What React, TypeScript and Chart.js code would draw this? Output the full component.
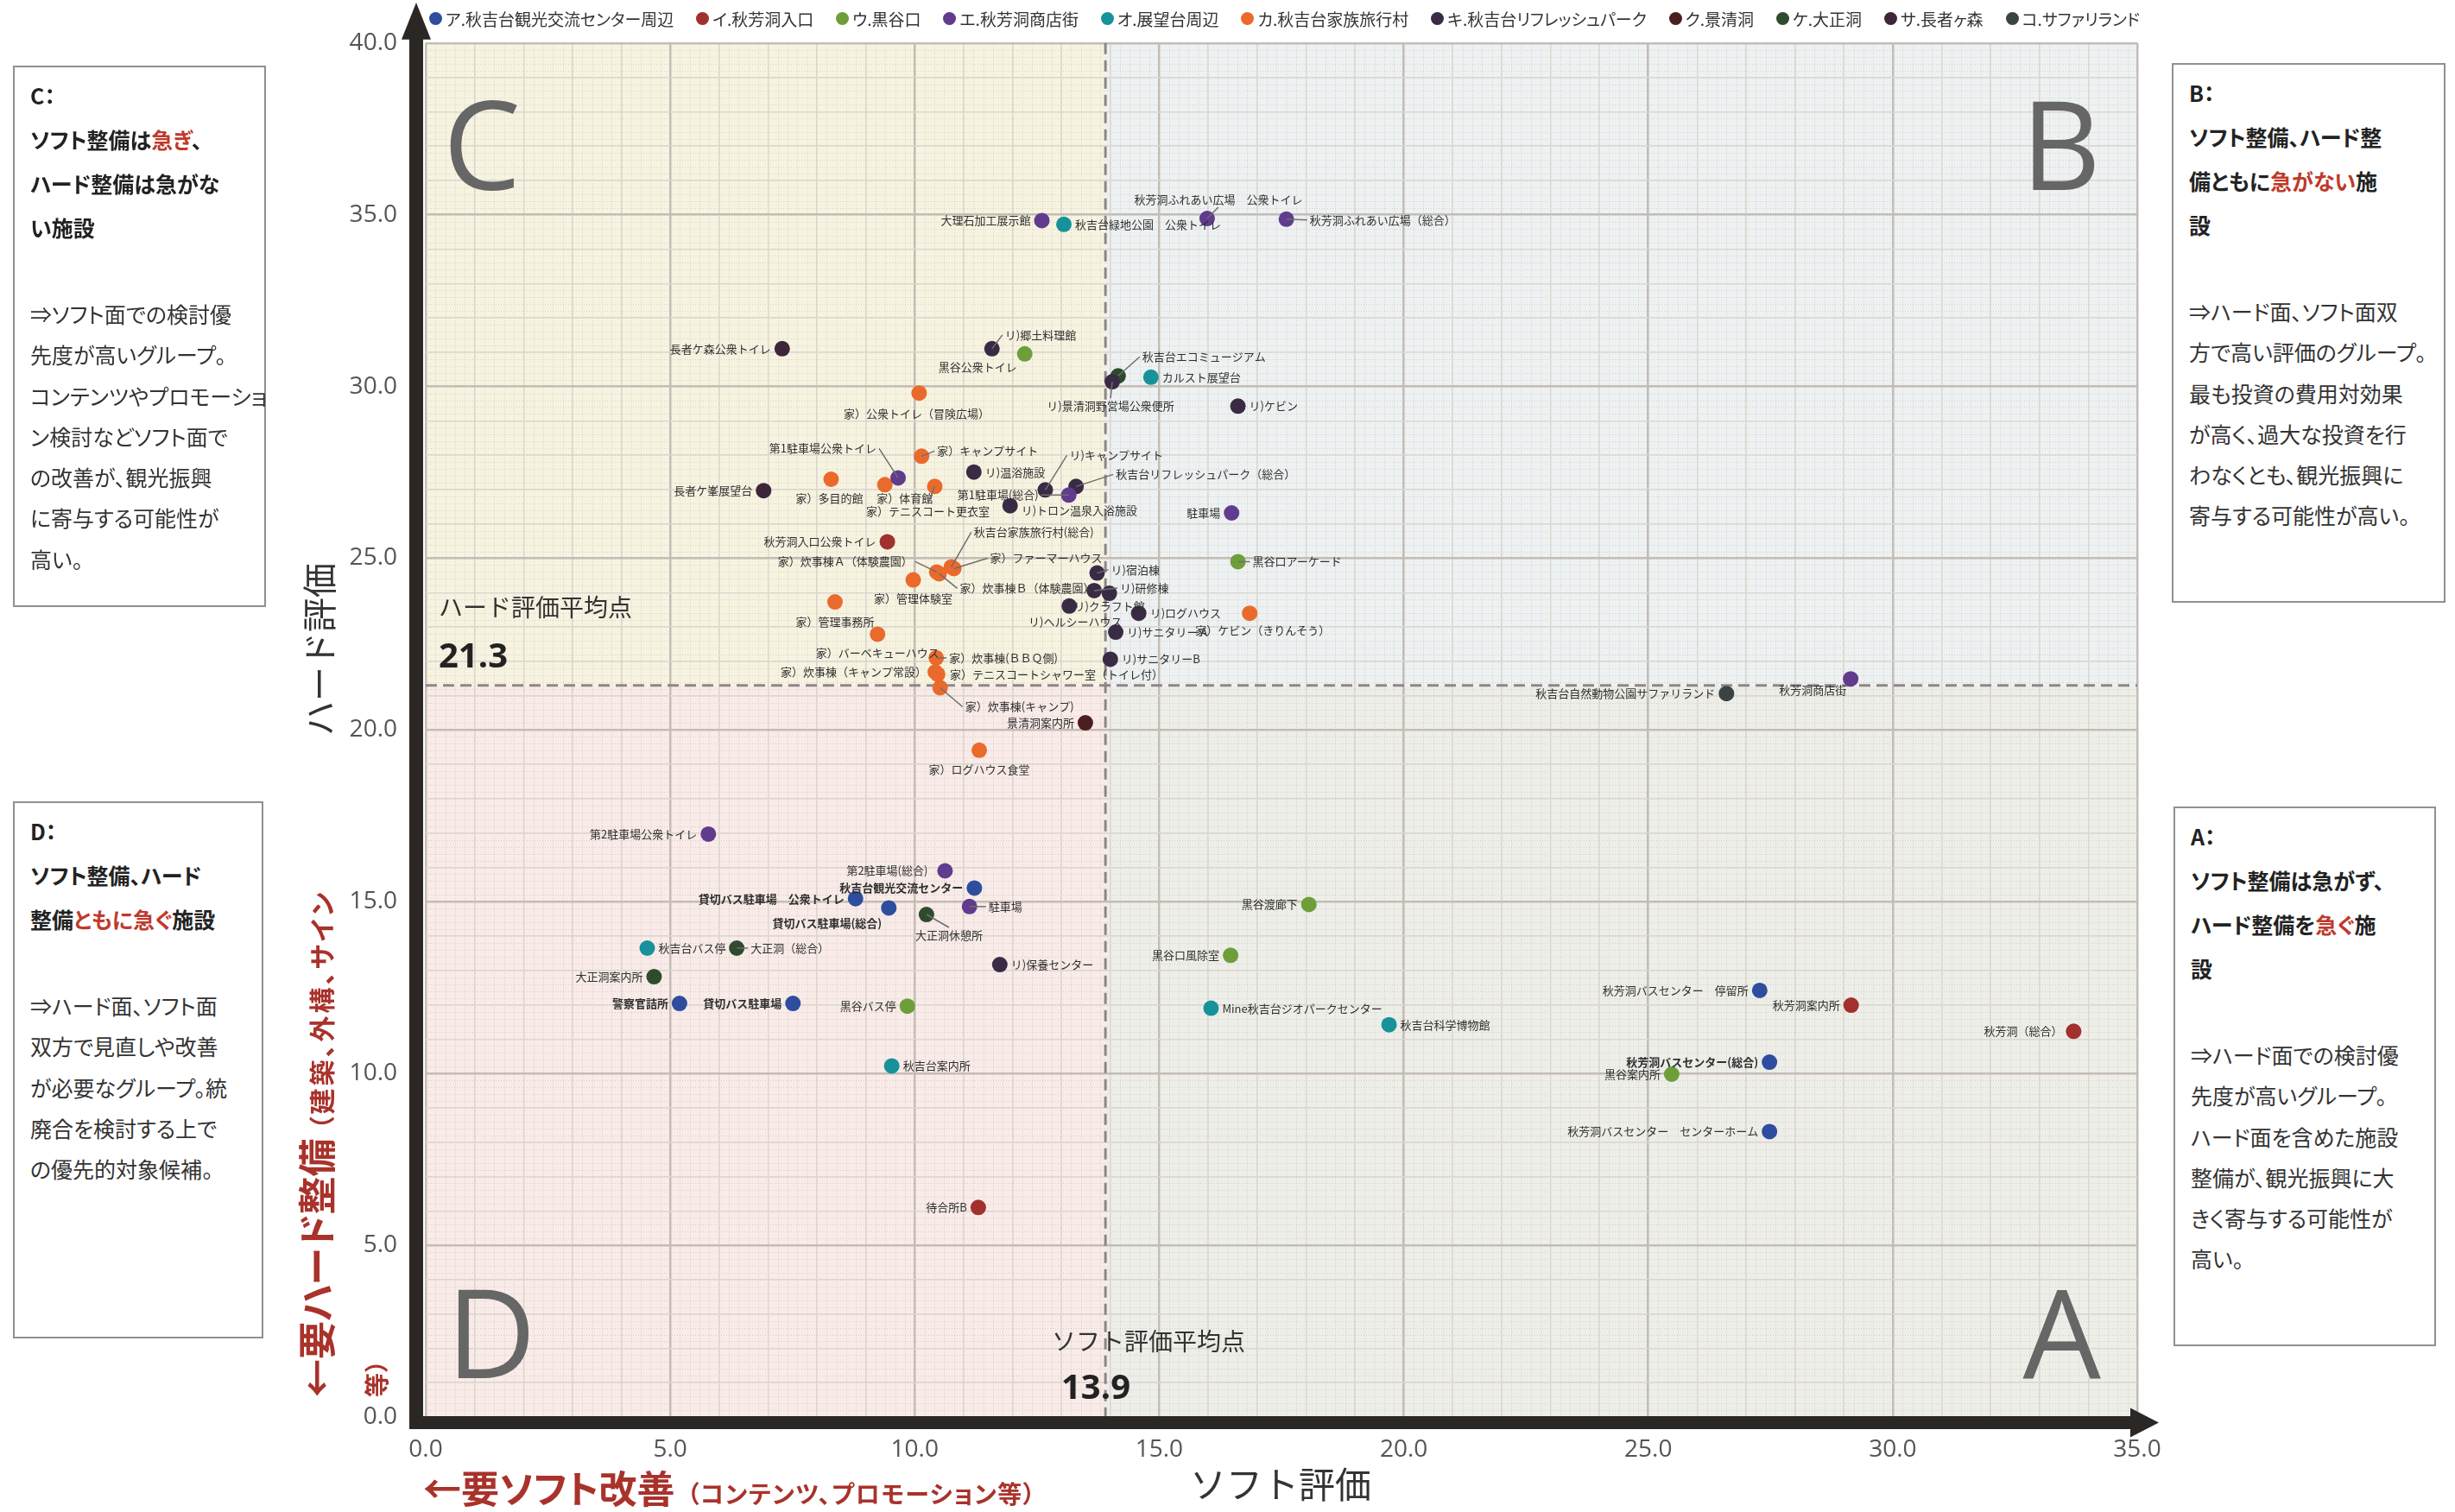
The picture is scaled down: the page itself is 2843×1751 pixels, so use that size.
import React, { useEffect, useRef } from 'react';
import { Chart, registerables } from 'chart.js';

Chart.register(...registerables);

const W = 2843;
const H = 1751;

const SOFT_AVG = 13.9;
const HARD_AVG = 21.3;
const X_MIN = 0;
const X_MAX = 35;
const Y_MIN = 0;
const Y_MAX = 40;

const SERIES_NAMES = [
  'ア.秋吉台観光交流センター周辺', 'イ.秋芳洞入口', 'ウ.黒谷口', 'エ.秋芳洞商店街', 'オ.展望台周辺',
  'カ.秋吉台家族旅行村', 'キ.秋吉台リフレッシュパーク', 'ク.景清洞', 'ケ.大正洞', 'サ.長者ヶ森', 'コ.サファリランド',
];
const SERIES_COLORS = [
  '#2E4D9E', '#A2302C', '#6E9E3A', '#603B8E', '#17929B',
  '#EA6A2C', '#3A2B45', '#4B1F1F', '#2F4B2D', '#3D2639', '#3A4444',
];

// ア.秋吉台観光交流センター周辺
const A_NAMES = ['秋吉台観光交流センター', '貸切バス駐車場　公衆トイレ', '貸切バス駐車場(総合)', '警察官詰所', '貸切バス駐車場', '秋芳洞バスセンター　停留所', '秋芳洞バスセンター(総合)', '秋芳洞バスセンター　センターホーム'];
const A_SOFT = [11.22, 8.79, 9.47, 5.19, 7.51, 27.28, 27.48, 27.48];
const A_HARD = [15.40, 15.09, 14.82, 12.04, 12.04, 12.42, 10.33, 8.31];
// イ.秋芳洞入口
const I_NAMES = ['秋芳洞入口公衆トイレ', '待合所B', '秋芳洞案内所', '秋芳洞（総合）'];
const I_SOFT = [9.44, 11.30, 29.15, 33.70];
const I_HARD = [25.48, 6.10, 11.99, 11.23];
// ウ.黒谷口
const U_NAMES = ['黒谷公衆トイレ', '黒谷口アーケード', '黒谷渡廊下', '黒谷口風除室', '黒谷バス停', '黒谷案内所'];
const U_SOFT = [12.25, 16.61, 18.06, 16.46, 9.85, 25.48];
const U_HARD = [30.95, 24.90, 14.92, 13.44, 11.96, 9.98];
// エ.秋芳洞商店街
const E_NAMES = ['大理石加工展示館', '第1駐車場公衆トイレ', '第1駐車場(総合)', '秋芳洞ふれあい広場　公衆トイレ', '秋芳洞ふれあい広場（総合）', '駐車場', '秋芳洞商店街', '第2駐車場公衆トイレ', '第2駐車場(総合)', '駐車場'];
const E_SOFT = [12.60, 9.66, 13.15, 15.98, 17.60, 16.48, 29.14, 5.78, 10.62, 11.12];
const E_HARD = [34.83, 27.34, 26.84, 34.89, 34.87, 26.32, 21.49, 16.97, 15.90, 14.86];
// オ.展望台周辺
const O_NAMES = ['秋吉台緑地公園　公衆トイレ', 'カルスト展望台', '秋吉台バス停', '秋吉台案内所', 'Mine秋吉台ジオパークセンター', '秋吉台科学博物館'];
const O_SOFT = [13.05, 14.83, 4.53, 9.53, 16.06, 19.70];
const O_HARD = [34.72, 30.27, 13.65, 10.22, 11.90, 11.42];
// カ.秋吉台家族旅行村
const KA_NAMES = ['家）公衆トイレ（冒険広場）', '家）キャンプサイト', '家）多目的館', '家）体育館', '家）テニスコート更衣室', '家）炊事棟Ａ（体験農園）', '家）炊事棟Ｂ（体験農園）', '秋吉台家族旅行村(総合)', '家）ファーマーハウス', '家）管理体験室', '家）管理事務所', '家）バーベキューハウス', '家）炊事棟(ＢＢＱ側)', '家）炊事棟（キャンプ常設）', '家）テニスコートシャワー室（トイレ付）', '家）炊事棟(キャンプ)', '家）ログハウス食堂', '家）ケビン（きりんそう）'];
const KA_SOFT = [10.09, 10.14, 8.29, 9.39, 10.41, 10.45, 10.50, 10.75, 10.80, 9.97, 8.37, 9.24, 10.44, 10.42, 10.47, 10.52, 11.32, 16.85];
const KA_HARD = [29.81, 27.97, 27.30, 27.14, 27.09, 24.60, 24.55, 24.75, 24.70, 24.37, 23.73, 22.79, 22.10, 21.69, 21.62, 21.23, 19.41, 23.40];
// キ.秋吉台リフレッシュパーク
const KI_NAMES = ['リ)郷土料理館', 'リ)景清洞野営場公衆便所', 'リ)キャンプサイト', '秋吉台リフレッシュパーク（総合）', 'リ)温浴施設', 'リ)トロン温泉入浴施設', 'リ)ケビン', 'リ)宿泊棟', 'リ)研修棟', 'リ)クラフト館', 'リ)ヘルシーハウス', 'リ)ログハウス', 'リ)サニタリー A', 'リ)サニタリーB', 'リ)保養センター'];
const KI_SOFT = [11.58, 14.04, 12.67, 13.30, 11.21, 11.95, 16.61, 13.73, 13.67, 13.98, 13.16, 14.58, 14.11, 14.00, 11.74];
const KI_HARD = [31.10, 30.14, 26.99, 27.09, 27.51, 26.53, 29.43, 24.57, 24.06, 23.98, 23.61, 23.40, 22.85, 22.06, 13.17];
// ク.景清洞
const KU_NAMES = ['景清洞案内所'];
const KU_SOFT = [13.49];
const KU_HARD = [20.21];
// ケ.大正洞
const KE_NAMES = ['大正洞休憩所', '大正洞（総合）', '大正洞案内所', '秋吉台エコミュージアム'];
const KE_SOFT = [10.24, 6.36, 4.67, 14.16];
const KE_HARD = [14.63, 13.65, 12.82, 30.31];
// サ.長者ヶ森
const SA_NAMES = ['長者ケ森公衆トイレ', '長者ケ峯展望台'];
const SA_SOFT = [7.29, 6.91];
const SA_HARD = [31.10, 26.97];
// コ.サファリランド
const KO_NAMES = ['秋吉台自然動物公園サファリランド'];
const KO_SOFT = [26.60];
const KO_HARD = [21.06];

// ---- label placement (layout only) ----
type Place = { dx: number; dy: number; a: 'l' | 'r' | 'c'; ln?: boolean; b?: boolean };
const L: Place = { dx: -13, dy: 0, a: 'r' };
const LB: Place = { dx: -13, dy: 0, a: 'r', b: true };
const R: Place = { dx: 13, dy: 0, a: 'l' };
const BL: Place = { dx: 0, dy: 22, a: 'c' };

const A_PLACE: Place[] = [LB, LB, { dx: -8, dy: 18, a: 'r', b: true }, LB, LB, L, LB, L];
const I_PLACE: Place[] = [L, L, L, L];
const U_PLACE: Place[] = [{ dx: -9, dy: 15, a: 'r' }, { dx: 17, dy: 0, a: 'l', ln: true }, L, L, L, L];
const E_PLACE: Place[] = [L, { dx: -25, dy: -34, a: 'r', ln: true }, { dx: -35, dy: 0, a: 'r', ln: true }, { dx: 13, dy: -22, a: 'c', ln: true }, { dx: 27, dy: 1, a: 'l', ln: true }, L, { dx: -5, dy: 13, a: 'r' }, L, { dx: -20, dy: 0, a: 'r' }, { dx: 22, dy: 0, a: 'l', ln: true }];
const O_PLACE: Place[] = [R, R, R, R, R, R];
const KA_PLACE: Place[] = [
  { dx: -3, dy: 24, a: 'c' }, { dx: 18, dy: -6, a: 'l', ln: true }, { dx: -2, dy: 22, a: 'c' }, { dx: 23, dy: 16, a: 'c' },
  { dx: -8, dy: 29, a: 'c', ln: true }, { dx: -28, dy: -12, a: 'r', ln: true }, { dx: 24, dy: 17, a: 'l', ln: true },
  { dx: 26, dy: -40, a: 'l', ln: true }, { dx: 42, dy: -12, a: 'l', ln: true }, BL, { dx: 0, dy: 23, a: 'c' }, BL,
  { dx: 15, dy: 0, a: 'l', ln: true }, { dx: -10, dy: 0, a: 'r' }, { dx: 14, dy: 0, a: 'l' }, { dx: 29, dy: 22, a: 'l', ln: true },
  BL, { dx: 15, dy: 20, a: 'c' },
];
const KI_PLACE: Place[] = [
  { dx: 15, dy: -16, a: 'l', ln: true }, { dx: -2, dy: 28, a: 'c', ln: true }, { dx: 28, dy: -40, a: 'l', ln: true },
  { dx: 46, dy: -14, a: 'l', ln: true }, R, { dx: 13, dy: 5, a: 'l' }, R, { dx: 16, dy: -4, a: 'l', ln: true },
  { dx: 30, dy: -3, a: 'l', ln: true }, { dx: 0, dy: 15, a: 'c' }, { dx: 7, dy: 18, a: 'c' }, R, R, R, R,
];
const KU_PLACE: Place[] = [L];
const KE_PLACE: Place[] = [{ dx: 26, dy: 24, a: 'c', ln: true }, { dx: 16, dy: 0, a: 'l', ln: true }, L, { dx: 28, dy: -22, a: 'l', ln: true }];
const SA_PLACE: Place[] = [L, L];
const KO_PLACE: Place[] = [L];

const SERIES = [
  { names: A_NAMES, soft: A_SOFT, hard: A_HARD, places: A_PLACE },
  { names: I_NAMES, soft: I_SOFT, hard: I_HARD, places: I_PLACE },
  { names: U_NAMES, soft: U_SOFT, hard: U_HARD, places: U_PLACE },
  { names: E_NAMES, soft: E_SOFT, hard: E_HARD, places: E_PLACE },
  { names: O_NAMES, soft: O_SOFT, hard: O_HARD, places: O_PLACE },
  { names: KA_NAMES, soft: KA_SOFT, hard: KA_HARD, places: KA_PLACE },
  { names: KI_NAMES, soft: KI_SOFT, hard: KI_HARD, places: KI_PLACE },
  { names: KU_NAMES, soft: KU_SOFT, hard: KU_HARD, places: KU_PLACE },
  { names: KE_NAMES, soft: KE_SOFT, hard: KE_HARD, places: KE_PLACE },
  { names: SA_NAMES, soft: SA_SOFT, hard: SA_HARD, places: SA_PLACE },
  { names: KO_NAMES, soft: KO_SOFT, hard: KO_HARD, places: KO_PLACE },
];

const FONT = '"Noto Sans CJK JP", "Noto Sans", sans-serif';
const NUMFONT = '"Open Sans", "Noto Sans", sans-serif';
const RED = '#A9322B';
const BOXRED = '#C0392B';

const bgPlugin = {
  id: 'quadBg',
  beforeDraw(chart: any) {
    const { ctx, chartArea: ca, scales } = chart;
    const x = scales.x;
    const y = scales.y;
    const mx = x.getPixelForValue(SOFT_AVG);
    const my = y.getPixelForValue(HARD_AVG);
    ctx.save();
    ctx.fillStyle = '#F7F3E1';
    ctx.fillRect(ca.left, ca.top, mx - ca.left, my - ca.top);
    ctx.fillStyle = '#EDF1F1';
    ctx.fillRect(mx, ca.top, ca.right - mx, my - ca.top);
    ctx.fillStyle = '#F8EBE8';
    ctx.fillRect(ca.left, my, mx - ca.left, ca.bottom - my);
    ctx.fillStyle = '#EEEEE9';
    ctx.fillRect(mx, my, ca.right - mx, ca.bottom - my);
    ctx.strokeStyle = 'rgba(120,105,95,0.22)';
    ctx.lineWidth = 1;
    ctx.setLineDash([1, 2]);
    for (let i = 0; i <= (X_MAX - X_MIN) * 5; i++) {
      const px = Math.round(x.getPixelForValue(X_MIN + i / 5)) + 0.5;
      ctx.beginPath();
      ctx.moveTo(px, ca.top);
      ctx.lineTo(px, ca.bottom);
      ctx.stroke();
    }
    for (let i = 0; i <= (Y_MAX - Y_MIN) * 5; i++) {
      const py = Math.round(y.getPixelForValue(Y_MIN + i / 5)) + 0.5;
      ctx.beginPath();
      ctx.moveTo(ca.left, py);
      ctx.lineTo(ca.right, py);
      ctx.stroke();
    }
    ctx.restore();
  },
};

const overlayPlugin = {
  id: 'overlay',
  beforeDatasetsDraw(chart: any) {
    const { ctx, chartArea: ca, scales } = chart;
    const mx = scales.x.getPixelForValue(SOFT_AVG);
    const my = scales.y.getPixelForValue(HARD_AVG);
    ctx.save();
    // quadrant letters
    ctx.fillStyle = '#666666';
    ctx.font = '143px ' + NUMFONT;
    ctx.textBaseline = 'alphabetic';
    ctx.textAlign = 'left';
    ctx.fillText('C', ca.left + 20, ca.top + 170);
    ctx.fillText('D', ca.left + 24, ca.bottom - 45);
    ctx.textAlign = 'right';
    ctx.fillText('B', ca.right - 42, ca.top + 170);
    ctx.fillText('A', ca.right - 42, ca.bottom - 45);
    // average dashed lines
    ctx.strokeStyle = '#8E8686';
    ctx.lineWidth = 3;
    ctx.setLineDash([13, 7]);
    ctx.beginPath();
    ctx.moveTo(mx, ca.top);
    ctx.lineTo(mx, ca.bottom);
    ctx.stroke();
    ctx.beginPath();
    ctx.moveTo(ca.left, my);
    ctx.lineTo(ca.right, my);
    ctx.stroke();
    ctx.restore();
  },
  afterDatasetsDraw(chart: any) {
    const { ctx, chartArea: ca } = chart;
    ctx.save();
    chart.data.datasets.forEach((ds: any, i: number) => {
      const meta = chart.getDatasetMeta(i);
      meta.data.forEach((el: any, j: number) => {
        const name = ds.names[j];
        const p: Place = ds.places[j] || R;
        if (!name) return;
        const lx = el.x + p.dx;
        const ly = el.y + p.dy;
        if (p.ln) {
          let ex = lx;
          let ey = ly;
          if (p.a === 'l') ex = lx - 3;
          else if (p.a === 'r') ex = lx + 3;
          else ey = ly + (p.dy > 0 ? -9 : 9);
          ctx.strokeStyle = '#6E6E6E';
          ctx.lineWidth = 1.5;
          ctx.beginPath();
          ctx.moveTo(el.x, el.y);
          ctx.lineTo(ex, ey);
          ctx.stroke();
        }
        ctx.font = (p.b ? 'bold ' : '') + '13px ' + FONT;
        ctx.textAlign = p.a === 'l' ? 'left' : p.a === 'r' ? 'right' : 'center';
        ctx.textBaseline = 'middle';
        ctx.fillStyle = '#2F2F2F';
        ctx.fillText(name, lx, ly);
      });
    });
    // axis arrows
    ctx.fillStyle = '#2B2724';
    const yx0 = ca.left - 19;
    const yx1 = ca.left - 3;
    ctx.fillRect(yx0, ca.top - 6, yx1 - yx0, ca.bottom + 14 - (ca.top - 6));
    ctx.beginPath();
    ctx.moveTo((yx0 + yx1) / 2, 3);
    ctx.lineTo((yx0 + yx1) / 2 - 17, ca.top - 4);
    ctx.lineTo((yx0 + yx1) / 2 + 17, ca.top - 4);
    ctx.closePath();
    ctx.fill();
    const xy0 = ca.bottom - 1;
    const xy1 = ca.bottom + 14;
    ctx.fillRect(yx0, xy0, ca.right - 5 - yx0, xy1 - xy0);
    ctx.beginPath();
    ctx.moveTo(ca.right + 25, (xy0 + xy1) / 2);
    ctx.lineTo(ca.right - 8, (xy0 + xy1) / 2 - 17);
    ctx.lineTo(ca.right - 8, (xy0 + xy1) / 2 + 17);
    ctx.closePath();
    ctx.fill();
    ctx.restore();
  },
};

function ChartCanvas() {
  const ref = useRef<HTMLCanvasElement | null>(null);
  useEffect(() => {
    if (!ref.current) return;
    const datasets = SERIES.map((s, i) => ({
      label: SERIES_NAMES[i],
      data: s.soft.map((v, j) => ({ x: v, y: s.hard[j] })),
      names: s.names,
      places: s.places,
      backgroundColor: SERIES_COLORS[i],
      borderColor: SERIES_COLORS[i],
      borderWidth: 0,
      pointRadius: 9,
      pointHoverRadius: 9,
    }));
    const isMajor = (c: any) => c && c.tick && Math.round(c.tick.value) % 5 === 0;
    const chart = new Chart(ref.current, {
      type: 'scatter',
      data: { datasets } as any,
      options: {
        animation: false,
        responsive: false,
        maintainAspectRatio: false,
        layout: { padding: { left: 343, right: 368, top: 42, bottom: 30 } },
        plugins: { legend: { display: false }, tooltip: { enabled: false } },
        scales: {
          x: {
            type: 'linear',
            min: X_MIN,
            max: X_MAX,
            afterFit: (s: any) => { s.height = 80; },
            border: { display: false },
            grid: {
              drawTicks: false,
              color: (c: any) => (isMajor(c) ? '#C4BDB5' : '#DCD7CF'),
              lineWidth: (c: any) => (isMajor(c) ? 2.5 : 1.5),
            },
            ticks: {
              stepSize: 1,
              autoSkip: false,
              maxRotation: 0,
              padding: 21,
              color: '#555555',
              font: { family: NUMFONT, size: 28 },
              callback: (v: any) => (Number(v) % 5 === 0 ? Number(v).toFixed(1) : ''),
            },
          },
          y: {
            type: 'linear',
            min: Y_MIN,
            max: Y_MAX,
            afterFit: (s: any) => { s.width = 150; },
            border: { display: false },
            grid: {
              drawTicks: false,
              color: (c: any) => (isMajor(c) ? '#C4BDB5' : '#DCD7CF'),
              lineWidth: (c: any) => (isMajor(c) ? 2.5 : 1.5),
            },
            ticks: {
              stepSize: 1,
              autoSkip: false,
              padding: 33,
              color: '#555555',
              font: { family: NUMFONT, size: 28 },
              callback: (v: any) => (Number(v) % 5 === 0 ? Number(v).toFixed(1) : ''),
            },
          },
        },
      } as any,
      plugins: [bgPlugin, overlayPlugin],
    });
    return () => chart.destroy();
  }, []);
  return <canvas ref={ref} width={W} height={H} style={{ position: 'absolute', left: 0, top: 0, width: W, height: H }} />;
}

type Seg = [string, boolean?];
function InfoBox(props: { left: number; top: number; width: number; height: number; head: Seg[][]; body: string[] }) {
  const { left, top, width, height, head, body } = props;
  return (
    <div style={{ position: 'absolute', left, top, width, height, boxSizing: 'border-box', border: '2px solid #909090', background: '#fff', padding: '7px 0 0 18px', fontFamily: FONT, color: '#222', fontFeatureSettings: '"palt"', whiteSpace: 'nowrap' }}>
      <div style={{ fontWeight: 700, fontSize: 25, lineHeight: '51px' }}>
        {head.map((line, i) => (
          <div key={i}>{line.map((s, k) => <span key={k} style={{ color: s[1] ? BOXRED : undefined }}>{s[0]}</span>)}</div>
        ))}
      </div>
      <div style={{ marginTop: 51, fontSize: 25, lineHeight: '47.3px', color: '#333' }}>
        {body.map((b, i) => <div key={i}>{b}</div>)}
      </div>
    </div>
  );
}

export default function App() {
  useEffect(() => {
    document.body.style.margin = '0';
    document.body.style.overflow = 'hidden';
  }, []);
  return (
    <div style={{ position: 'absolute', left: 0, top: 0, width: W, height: H, background: '#fff', overflow: 'hidden' }}>
      <ChartCanvas />
      {/* legend */}
      <div style={{ position: 'absolute', left: 497, top: 5, width: 1981, height: 32, display: 'flex', justifyContent: 'space-between', alignItems: 'center', fontFamily: FONT, fontSize: 19, color: '#333', fontFeatureSettings: '"palt"', whiteSpace: 'nowrap' }}>
        {SERIES_NAMES.map((n, i) => (
          <div key={i} style={{ display: 'flex', alignItems: 'center' }}>
            <span style={{ display: 'inline-block', width: 15, height: 15, borderRadius: '50%', background: SERIES_COLORS[i], marginRight: 4 }} />
            {n}
          </div>
        ))}
      </div>
      {/* info boxes */}
      <InfoBox left={15} top={76} width={293} height={627}
        head={[[['C：']], [['ソフト整備は'], ['急ぎ', true], ['、']], [['ハード整備は急がな']], [['い施設']]]}
        body={['⇒ソフト面での検討優', '先度が高いグループ。', 'コンテンツやプロモーショ', 'ン検討などソフト面で', 'の改善が、観光振興', 'に寄与する可能性が', '高い。']} />
      <InfoBox left={15} top={928} width={290} height={622}
        head={[[['D：']], [['ソフト整備、ハード']], [['整備'], ['ともに急ぐ', true], ['施設']]]}
        body={['⇒ハード面、ソフト面', '双方で見直しや改善', 'が必要なグループ。統', '廃合を検討する上で', 'の優先的対象候補。']} />
      <InfoBox left={2515} top={73} width={317} height={625}
        head={[[['B：']], [['ソフト整備、ハード整']], [['備ともに'], ['急がない', true], ['施']], [['設']]]}
        body={['⇒ハード面、ソフト面双', '方で高い評価のグループ。', '最も投資の費用対効果', 'が高く、過大な投資を行', 'わなくとも、観光振興に', '寄与する可能性が高い。']} />
      <InfoBox left={2517} top={934} width={304} height={625}
        head={[[['A：']], [['ソフト整備は急がず、']], [['ハード整備を'], ['急ぐ', true], ['施']], [['設']]]}
        body={['⇒ハード面での検討優', '先度が高いグループ。', 'ハード面を含めた施設', '整備が、観光振興に大', 'きく寄与する可能性が', '高い。']} />
      {/* y axis titles */}
      <div style={{ position: 'absolute', left: 368, top: 752, transform: 'translate(-50%, -50%) rotate(-90deg)', fontFamily: FONT, fontSize: 40, color: '#333', whiteSpace: 'nowrap', lineHeight: '44px' }}>ハード評価</div>
      <div style={{ position: 'absolute', left: 340, top: 1618, transform: 'rotate(-90deg)', transformOrigin: '0 0', fontFamily: FONT, fontWeight: 700, color: RED, whiteSpace: 'nowrap', lineHeight: '50px', fontFeatureSettings: '"palt"' }}>
        <span style={{ fontSize: 44 }}>←要ハード整備</span>
        <span style={{ fontSize: 30, marginLeft: 10, letterSpacing: 3 }}>（建築、外構、サイン</span>
      </div>
      <div style={{ position: 'absolute', left: 420, top: 1618, transform: 'rotate(-90deg)', transformOrigin: '0 0', fontFamily: FONT, fontWeight: 700, color: RED, whiteSpace: 'nowrap', lineHeight: '30px', fontSize: 28 }}>等）</div>
      {/* x axis titles */}
      <div style={{ position: 'absolute', left: 1483, top: 1717, transform: 'translate(-50%, -50%)', fontFamily: FONT, fontSize: 42, color: '#333', whiteSpace: 'nowrap', lineHeight: '48px' }}>ソフト評価</div>
      <div style={{ position: 'absolute', left: 490, top: 1697, fontFamily: FONT, fontWeight: 700, color: RED, whiteSpace: 'nowrap', lineHeight: '50px', fontFeatureSettings: '"palt"' }}>
        <span style={{ fontSize: 44 }}>←要ソフト改善</span>
        <span style={{ fontSize: 28, marginLeft: 14, letterSpacing: 1.5 }}>（コンテンツ、プロモーション等）</span>
      </div>
      {/* average annotations */}
      <div style={{ position: 'absolute', left: 508, top: 685, fontFamily: FONT, fontSize: 28, color: '#333', whiteSpace: 'nowrap', lineHeight: '34px' }}>ハード評価平均点</div>
      <div style={{ position: 'absolute', left: 508, top: 734, fontFamily: NUMFONT, fontWeight: 700, fontSize: 40, color: '#222', whiteSpace: 'nowrap', lineHeight: '48px' }}>{HARD_AVG.toFixed(1)}</div>
      <div style={{ position: 'absolute', left: 1218, top: 1535, fontFamily: FONT, fontSize: 28, color: '#333', whiteSpace: 'nowrap', lineHeight: '34px' }}>ソフト評価平均点</div>
      <div style={{ position: 'absolute', left: 1229, top: 1581, fontFamily: NUMFONT, fontWeight: 700, fontSize: 40, color: '#222', whiteSpace: 'nowrap', lineHeight: '48px' }}>{SOFT_AVG.toFixed(1)}</div>
    </div>
  );
}
